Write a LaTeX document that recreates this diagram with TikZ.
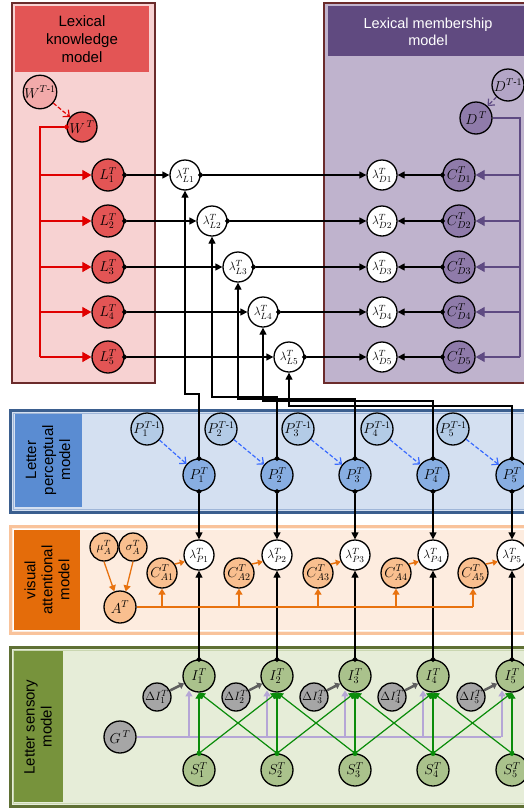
\documentclass[tikz,border=0pt]{standalone}
\usepackage{amsmath}
\usepackage{fontspec}
\setmainfont{Liberation Sans}
\usetikzlibrary{arrows.meta,calc}
\definecolor{maroonb}{HTML}{6B2B2B}
\definecolor{lkfill}{HTML}{F7D2D2}
\definecolor{lkhead}{HTML}{E35555}
\definecolor{redn}{HTML}{E35555}
\definecolor{redn1}{HTML}{F2AAAA}
\definecolor{redl}{HTML}{E00000}
\definecolor{lmfill}{HTML}{BFB3CD}
\definecolor{lmhead}{HTML}{604A80}
\definecolor{purn}{HTML}{8F7BAA}
\definecolor{purn1}{HTML}{B3A5C6}
\definecolor{purl}{HTML}{5E4A82}
\definecolor{blb}{HTML}{3B5F8F}
\definecolor{blin}{HTML}{9FB6D8}
\definecolor{blfill}{HTML}{D4E0F1}
\definecolor{blhead}{HTML}{5A8CD2}
\definecolor{bln1}{HTML}{B3CBE6}
\definecolor{bln}{HTML}{88AEE2}
\definecolor{bldash}{HTML}{3A6BFF}
\definecolor{orb}{HTML}{F9C39B}
\definecolor{orfill}{HTML}{FDECDF}
\definecolor{orhead}{HTML}{E46C0A}
\definecolor{orn}{HTML}{F9BF8F}
\definecolor{orl}{HTML}{E8720F}
\definecolor{grb}{HTML}{5F7034}
\definecolor{grin}{HTML}{C9D6B0}
\definecolor{grfill}{HTML}{E6EDD8}
\definecolor{grhead}{HTML}{77933C}
\definecolor{grn}{HTML}{AAC28C}
\definecolor{grl}{HTML}{0A8C0A}
\definecolor{gyn}{HTML}{A6A6A6}
\definecolor{gyl}{HTML}{5F5F5F}
\definecolor{lavl}{HTML}{B5A6D6}
\begin{document}
\begin{tikzpicture}[x=1pt,y=-1pt,
  base/.style={circle, draw=black, line width=1.3pt, inner sep=0pt, font=\fontsize{14}{16}\selectfont},
  rbig/.style={base, minimum size=32pt},
  rmid/.style={base, minimum size=30pt},
  rsml/.style={base, minimum size=28pt, font=\fontsize{13}{15}\selectfont},
  lam/.style={rmid, fill=white, font=\fontsize{13}{15}\selectfont},
  conn/.style={line width=1.3pt, {Circle[length=5pt]}-{Triangle[length=7pt,width=7pt]}, shorten <=-2.5pt},
  redline/.style={draw=redl, line width=1.2pt},
  purline/.style={draw=purl, line width=1.2pt},
  bigtri/.style={-{Triangle[length=9pt,width=10pt]}},
  dasharr/.style={line width=1.2pt, dash pattern=on 4pt off 2pt, -{Straight Barb[length=5pt,width=9pt]}},
  hdr/.style={font=\fontsize{15}{18}\selectfont, align=center},
  rhdr/.style={font=\fontsize{15}{17}\selectfont, align=center, rotate=90}
]
\useasboundingbox (0,0) rectangle (524,809);
\clip (0,0) rectangle (524,809);

% ---------- panels ----------
\draw[draw=maroonb, line width=2.5pt, fill=lkfill] (12,3) rectangle (155,383);
\fill[lkhead] (15,6) rectangle (149,72);
\node[hdr] (lkt) at (82,39) {Lexical\\knowledge\\model};

\draw[draw=maroonb, line width=2.5pt, fill=lmfill] (324,3) rectangle (545,383);
\fill[lmhead] (328,6) rectangle (545,56);
\node[hdr, text=white, font=\fontsize{14.5}{17}\selectfont] (lmt) at (428,32) {Lexical membership\\model};

\draw[draw=blb, line width=3pt, fill=blfill] (10,410) rectangle (545,512);
\draw[draw=blin, line width=1pt] (13,413) rectangle (545,509);
\fill[blhead] (15,414) rectangle (82,507);
\node[rhdr] (lpt) at (48,460) {Letter\\perceptual\\model};

\draw[draw=orb, line width=3pt, fill=orfill] (10,526) rectangle (545,633);
\draw[draw=white, line width=0.8pt] (13,529) rectangle (545,630);
\fill[orhead] (14,530) rectangle (80,630);
\node[rhdr] (vat) at (47,580) {visual\\attentional\\model};

\draw[draw=grb, line width=3pt, fill=grfill] (10,647) rectangle (545,806);
\draw[draw=grin, line width=0.8pt] (13,650) rectangle (545,803);
\fill[grhead] (14,651) rectangle (63,802);
\node[rhdr] (lst) at (38,727) {Letter sensory\\model};

% ---------- lexical rows ----------
\node[rmid, fill=redn1] (W1) at (40,92) {$W^{T\text{-}1}$};
\node[rmid, fill=redn] (W) at (82,127) {$W^{\,T}$};
\node[rbig, fill=purn1] (D1) at (508,85) {$D^{T\text{-}1}$};
\node[rbig, fill=purn] (D) at (476,118) {$D^{\,T}$};

\foreach \i/\yy in {1/175,2/221,3/267,4/312,5/357} {
  \node[rbig, fill=redn] (L\i) at (108,\yy) {$L^{T}_{\i}$};
  \node[lam] (lD\i) at (382,\yy) {$\lambda^{T}_{D\i}$};
  \node[rbig, fill=purn] (CD\i) at (459,\yy) {$C^{T}_{D\i}$};
}
\foreach \i/\xx/\yy in {1/185/175,2/212/221,3/238/267,4/263/312,5/289/357} {
  \node[lam] (lL\i) at (\xx,\yy) {$\lambda^{T}_{L\i}$};
}

% ---------- perceptual / attentional / sensory columns ----------
\foreach \i/\xx/\xo/\xc/\xd in {1/199/147/162/157,2/277/221/239/236,3/355/298/318/314,4/433/377/396/392,5/512/453/473/471} {
  \node[rbig, fill=bln1] (Po\i) at (\xo,429) {$P^{T\text{-}1}_{\i}$};
  \node[rbig, fill=bln] (P\i) at (\xx,475) {$P^{T}_{\i}$};
  \node[lam] (lP\i) at (\xx,555) {$\lambda^{T}_{P\i}$};
  \node[rmid, fill=orn] (CA\i) at (\xc,573) {$C^{T}_{A\i}$};
  \node[rbig, fill=grn] (I\i) at (\xx,676) {$I^{T}_{\i}$};
  \node[rbig, fill=grn] (S\i) at (\xx,770) {$S^{T}_{\i}$};
  \node[rsml, fill=gyn] (dI\i) at (\xd,697) {$\Delta I^{T}_{\i}$};
  \coordinate (gb\i) at ({\xx-10},737);
}
\node[rsml, fill=orn] (mu) at (104,547) {$\mu^{T}_{A}$};
\node[rsml, fill=orn] (sig) at (133,547) {$\sigma^{T}_{A}$};
\node[rbig, fill=orn] (A) at (120,607) {$A^{T}$};
\node[rbig, fill=gyn] (G) at (120,737) {$G^{\,T}$};

% ---------- lexical knowledge connectors ----------
\coordinate (rk) at (40,357);
\draw[redline, {Circle[length=5pt]}-, shorten <=-2.5pt] (W.west) -| (rk);
\foreach \i in {1,...,5} {
  \draw[redline, bigtri] (rk |- L\i) -- (L\i.west);
}
\draw[redline, dasharr] (W1) -- (W);

% ---------- lexical membership connectors ----------
\coordinate (pk) at (520,357);
\draw[purline] (D.east) -| (pk);
\foreach \i in {1,...,5} {
  \draw[purline, bigtri] (pk |- CD\i) -- (CD\i.east);
}
\draw[purline, dasharr] (D1) -- (D);

% ---------- rows ----------
\foreach \i in {1,...,5} {
  \draw[conn] (L\i.east) -- (lL\i.west);
  \draw[conn] (lL\i.east) -- (lD\i.west);
  \draw[conn] (CD\i.west) -- (lD\i.east);
}

% ---------- P to lambda_L routing ----------
\coordinate (h1) at (185,394);
\coordinate (h2) at (212,397);
\coordinate (h3) at (238,399);
\coordinate (h4) at (263,401);
\coordinate (h5) at (289,406);
\foreach \i in {1,...,5} {
  \draw[conn] (P\i.north) |- (h\i) -- (lL\i.south);
}

% ---------- perceptual ----------
\foreach \i in {1,...,5} {
  \draw[draw=bldash, dasharr] (Po\i) -- (P\i);
  \draw[conn] (P\i.south) -- (lP\i.north);
  \draw[conn] (I\i.north) -- (lP\i.south);
}

% ---------- attentional ----------
\draw[draw=orl, line width=1.3pt, -{Triangle[length=6pt,width=7pt]}] (mu.south) -- (A.110);
\draw[draw=orl, line width=1.3pt, -{Triangle[length=6pt,width=7pt]}] (sig.south) -- (A.70);
\coordinate (ob) at (473,607);
\draw[draw=orl, line width=2pt] (A.east) -- (ob);
\foreach \i in {1,...,5} {
  \draw[draw=orl, line width=1.3pt, -{Triangle[length=6pt,width=7pt]}] (CA\i |- ob) -- (CA\i.south);
  \draw[draw=orl, line width=1.5pt, -{Triangle[length=5pt,width=6pt]}] (CA\i.35) -- (lP\i.205);
}

% ---------- sensory ----------
\coordinate (ge) at (501,737);
\draw[draw=lavl, line width=1.5pt] (G.east) -- (ge);
\foreach \i in {1,...,5} {
  \draw[draw=lavl, line width=1.5pt, -{Triangle[length=6pt,width=7pt]}] (gb\i) -- (gb\i |- I\i.240);
  \draw[draw=gyl, line width=2.5pt, -{Triangle[length=5pt,width=7pt]}] (dI\i) -- (I\i);
}
\foreach \i/\j in {1/1,1/2,2/1,2/2,2/3,3/2,3/3,3/4,4/3,4/4,4/5,5/4,5/5} {
  \draw[draw=grl, fill=grl, line width=1.2pt, {Circle[length=5pt]}-{Triangle[length=6pt,width=7pt]}, shorten <=-2.5pt] (S\i.north) -- (I\j.south);
}
\end{tikzpicture}
\end{document}
